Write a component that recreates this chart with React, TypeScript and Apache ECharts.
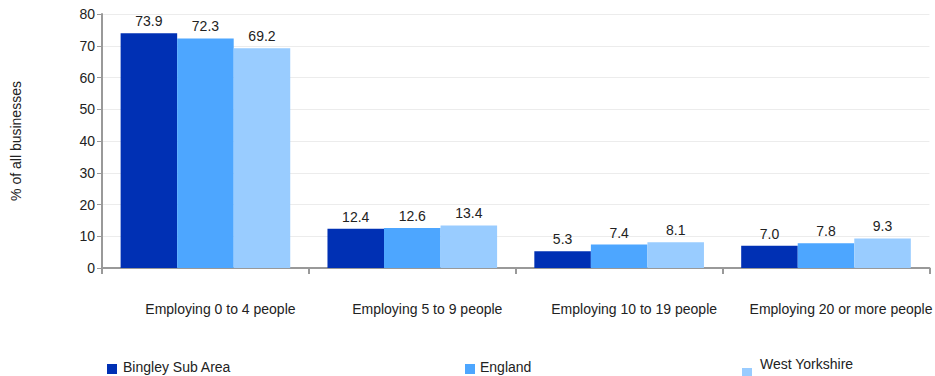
import React, { useEffect, useRef } from "react";
import * as echarts from "echarts";

const categories = [
  "Employing 0 to 4 people",
  "Employing 5 to 9 people",
  "Employing 10 to 19 people",
  "Employing 20 or more people",
];
const seriesNames = ["Bingley Sub Area", "England", "West Yorkshire"];
const bingley = [73.9, 12.4, 5.3, 7.0];
const england = [72.3, 12.6, 7.4, 7.8];
const westYorkshire = [69.2, 13.4, 8.1, 9.3];
const colors = ["#0030b4", "#4da6ff", "#99ccff"];
const yTicks = { min: 0, max: 80, interval: 10 };

export default function App() {
  const ref = useRef<HTMLDivElement>(null);
  useEffect(() => {
    if (!ref.current) return;
    const chart = echarts.init(ref.current, null, { renderer: "svg" });
    const font = "Liberation Sans, Arial, sans-serif";
    const values = [bingley, england, westYorkshire];
    const legendLefts = [107, 465, 742];
    const legendTops = [359, 359, 350];
    const iconHeights = [15, 15, 28];
    const textPadLeft = [1, 0, 3];
    chart.setOption({
      animation: false,
      textStyle: { fontFamily: font },
      grid: { left: 102, right: 2, top: 14, bottom: 108 },
      legend: seriesNames.map((n, i) => {
        const h = iconHeights[i];
        return {
          data: [n],
          left: legendLefts[i],
          top: legendTops[i],
          padding: 0,
          itemWidth: 10,
          itemHeight: h,
          icon: `path://M0,0L10,0M0,${h - 10}H10V${h}H0Z`,
          textStyle: {
            fontSize: 14,
            color: "#222",
            fontFamily: font,
            padding: [0, 0, 0, textPadLeft[i]],
          },
          selectedMode: false,
        };
      }),
      xAxis: {
        type: "category",
        data: categories,
        axisLine: { lineStyle: { color: "#999", width: 2 } },
        axisTick: { show: true, length: 6, lineStyle: { color: "#999", width: 2 } },
        axisLabel: {
          fontSize: 14,
          color: "#222",
          margin: 34,
          padding: [0, 0, 0, 30],
          interval: 0,
          fontFamily: font,
        },
      },
      yAxis: {
        type: "value",
        min: yTicks.min,
        max: yTicks.max,
        interval: yTicks.interval,
        name: "% of all businesses",
        nameLocation: "middle",
        nameGap: 79,
        nameRotate: 90,
        nameTextStyle: { fontSize: 14, color: "#222", fontFamily: font },
        axisLine: { show: true, lineStyle: { color: "#999", width: 2 } },
        axisTick: { show: true, length: 5, lineStyle: { color: "#999", width: 1 } },
        axisLabel: { fontSize: 14, color: "#222", margin: 7, fontFamily: font },
        splitLine: { lineStyle: { color: "#ececec", width: 1 } },
      },
      series: seriesNames.map((n, i) => ({
        name: n,
        type: "bar",
        data: values[i],
        barGap: "0%",
        barCategoryGap: "18%",
        itemStyle: { color: colors[i] },
        label: {
          show: true,
          position: "top",
          distance: 5,
          fontSize: 14,
          color: "#222",
          fontFamily: font,
          formatter: (p: any) => Number(p.value).toFixed(1),
        },
      })),
    });
    return () => chart.dispose();
  }, []);
  return <div ref={ref} style={{ width: 935, height: 376, position: "absolute", left: 0, top: 0 }} />;
}
